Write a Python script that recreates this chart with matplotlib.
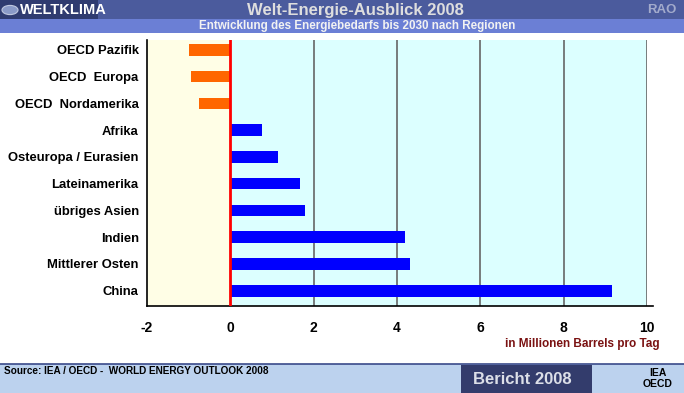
import matplotlib
matplotlib.use("Agg")
import matplotlib.pyplot as plt
from matplotlib.patches import Rectangle, Circle

plt.rcParams['font.family'] = ['Liberation Sans', 'DejaVu Sans']

regions = ["OECD Pazifik", "OECD  Europa", "OECD  Nordamerika", "Afrika",
           "Osteuropa / Eurasien", "Lateinamerika", "übriges Asien", "Indien",
           "Mittlerer Osten", "China"]
values = [-1.0, -0.95, -0.74, 0.75, 1.15, 1.66, 1.78, 4.18, 4.32, 9.15]
xticks = [-2, 0, 2, 4, 6, 8, 10]
xticklabels = ["-2", "0", "2", "4", "6", "8", "10"]

W, H = 684, 393
fig = plt.figure(figsize=(W / 100, H / 100), dpi=100)
fig.patch.set_facecolor("white")

def fx(px):
    return px / W

def fy(py):
    return 1 - py / H

# header bands
fig.patches.append(Rectangle((0, fy(19)), 1, 19 / H, transform=fig.transFigure,
                             facecolor="#4b5b9d", edgecolor="none", zorder=0))
fig.patches.append(Rectangle((0, fy(19)), fx(98), 19 / H, transform=fig.transFigure,
                             facecolor="#2f3b70", edgecolor="none", zorder=1))
fig.patches.append(Rectangle((0, fy(33)), 1, 14 / H, transform=fig.transFigure,
                             facecolor="#6b7fd5", edgecolor="none", zorder=0))
fig.patches.append(Circle((fx(10), fy(10)), 8 / W, transform=fig.transFigure,
                          facecolor="#8a9ac8", edgecolor="#c0c8e0", lw=0.8, zorder=2))
fig.text(fx(20), fy(10), "WELTKLIMA", color="white", fontsize=10.5, fontweight="bold",
         ha="left", va="center")
fig.text(fx(355), fy(10), "Welt-Energie-Ausblick 2008", color="#dedede", fontsize=12,
         fontweight="bold", ha="center", va="center")
fig.text(fx(676), fy(10), "RAO", color="#a3abcc", fontsize=9.5, fontweight="bold",
         ha="right", va="center")
fig.text(fx(357), fy(26), "Entwicklung des Energiebedarfs bis 2030 nach Regionen",
         color="#f2f2f2", fontsize=8.4, fontweight="bold", ha="center", va="center")

# footer
fig.patches.append(Rectangle((0, 0), 1, (H - 364) / H, transform=fig.transFigure,
                             facecolor="#bcd2ee", edgecolor="none", zorder=0))
fig.lines.append(plt.Line2D([0, 1], [fy(364), fy(364)], transform=fig.transFigure,
                            color="#3a4a8a", lw=1.2))
fig.patches.append(Rectangle((fx(461), 0), fx(592) - fx(461), (H - 365) / H,
                             transform=fig.transFigure, facecolor="#333c6c",
                             edgecolor="none", zorder=1))
fig.text(fx(522), fy(379), "Bericht 2008", color="#dcdfe8", fontsize=12,
         fontweight="bold", ha="center", va="center")
fig.text(fx(4), fy(371), "Source: IEA / OECD -  WORLD ENERGY OUTLOOK 2008", color="black",
         fontsize=7.2, fontweight="bold", ha="left", va="center")
fig.text(fx(658), fy(373), "IEA", color="black", fontsize=7.5, fontweight="bold",
         ha="center", va="center")
fig.text(fx(658), fy(384), "OECD", color="black", fontsize=7.5, fontweight="bold",
         ha="center", va="center")

# main axes
ax = fig.add_axes([fx(147), fy(306), fx(647) - fx(147), (306 - 40) / H])
ax.set_facecolor("none")
ax.set_xlim(-2, 10)
ypos = list(range(len(regions)))
ax.set_ylim(9.57, -0.37)
ax.axvspan(-2, 0, color="#fffee6", zorder=0, lw=0)
ax.axvspan(0, 10, color="#dcffff", zorder=0, lw=0)
for g in xticks[2:]:
    ax.axvline(g, color="#666666", lw=1.2, zorder=1)
colors = ["#ff6600" if v < 0 else "#0000ff" for v in values]
ax.barh(ypos, values, height=0.43, color=colors, zorder=2)
ax.axvline(0, color="#ff0000", lw=2, zorder=3)

ax.set_yticks(ypos)
ax.set_yticklabels(regions, fontsize=9.4, fontweight="bold")
ax.set_xticks(xticks)
ax.set_xticklabels(xticklabels, fontsize=10, fontweight="bold")
ax.tick_params(axis="both", length=0)
ax.tick_params(axis="y", pad=6)
ax.tick_params(axis="x", pad=11)
for s in ["top", "right"]:
    ax.spines[s].set_visible(False)
ax.spines["left"].set_color("black")
ax.spines["left"].set_linewidth(1.2)
ax.spines["bottom"].set_color("black")
ax.spines["bottom"].set_linewidth(1.2)
ax.spines["bottom"].set_bounds(-2, 10.15)

fig.text(fx(660), fy(344), "in Millionen Barrels pro Tag", color="#7a1212", fontsize=8.5,
         fontweight="bold", ha="right", va="center")

fig.savefig("out.png", dpi=100)
